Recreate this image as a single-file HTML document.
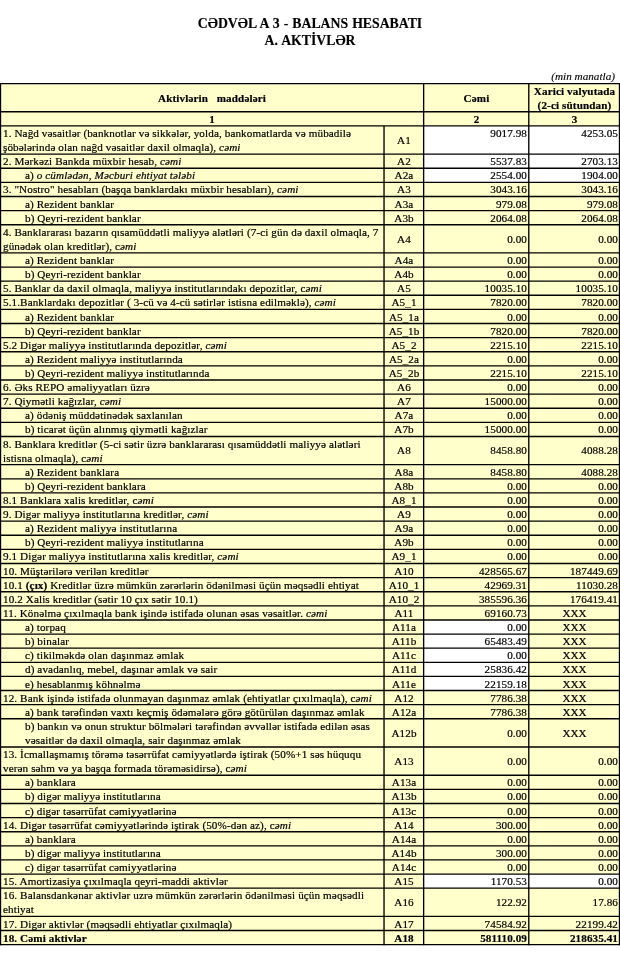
<!DOCTYPE html>
<html lang="az">
<head>
<meta charset="utf-8">
<title>Cədvəl A 3 - Balans hesabatı</title>
<style>
html,body{margin:0;padding:0;background:#fff;}
body{width:620px;height:965px;position:relative;overflow:hidden;font-family:"Liberation Serif","Times New Roman",serif;font-size:11.15px;color:#000;}
h1{position:absolute;left:0;width:620px;margin:0;text-align:center;font-size:13.75px;font-weight:bold;-webkit-text-stroke:0.15px #000;line-height:17px;top:14.5px;word-spacing:0.6px;}
.unit{position:absolute;right:5px;top:70px;font-style:italic;font-size:11.2px;-webkit-text-stroke:0.12px #000;line-height:13px;}
table{position:absolute;left:0;top:84px;border-collapse:separate;border-spacing:0;table-layout:fixed;width:620px;}
svg.grid{position:absolute;left:0;top:0;width:620px;height:965px;pointer-events:none;}
td,th{box-sizing:border-box;padding:0;border:0;background:#ffc;line-height:13px;vertical-align:bottom;white-space:nowrap;-webkit-text-stroke:0.2px #000;font-weight:normal;}
th{font-weight:bold;font-size:11.1px;letter-spacing:0.13px;text-align:center;vertical-align:middle;}
td.d{text-align:left;vertical-align:bottom;padding-left:3px;font-size:11.15px;letter-spacing:0.1px;}
td.d .u{position:relative;top:-1.1px;}
th.h3 .b{position:relative;top:1.2px;}
td.d.in{padding-left:25px;}
td.c{text-align:center;letter-spacing:0.075px;}
td.n{text-align:right;padding-right:2px;letter-spacing:0.075px;}
td.x{text-align:center;}
tr.t2 td.c,tr.t2 td.n,tr.t2 td.x{vertical-align:middle;}
td.w{background:#fff;}
tr.t2 td.top{vertical-align:top;padding-top:1px;}
tr.b td{font-weight:bold;}
</style>
</head>
<body>
<h1>CƏDVƏL A 3 - BALANS HESABATI<br>A. AKTİVLƏR</h1>
<div class="unit">(min manatla)</div>
<table>
<colgroup><col style="width:384px"><col style="width:40px"><col style="width:105px"><col style="width:91px"></colgroup>
<tr style="height:28px"><th colspan="2">Aktivlərin&nbsp;&nbsp; maddələri</th><th>Cəmi</th><th class="h3">Xarici valyutada<br><span class="b">(2-ci sütundan)</span></th></tr>
<tr style="height:14px"><th colspan="2">1</th><th>2</th><th>3</th></tr>
<tr class="t2" style="height:28px"><td class="d"><span class="u">1. Nağd vəsaitlər (banknotlar və sikkələr, yolda, bankomatlarda və mübadilə</span><br>şöbələrində olan nağd vəsaitlər daxil olmaqla), <i>cəmi</i></td><td class="c">A1</td><td class="n w top">9017.98</td><td class="n w top">4253.05</td></tr>
<tr style="height:14px"><td class="d">2. Mərkəzi Bankda müxbir hesab, <i>cəmi</i></td><td class="c">A2</td><td class="n w">5537.83</td><td class="n w">2703.13</td></tr>
<tr style="height:14px"><td class="d in">a) <i>o cümlədən, Məcburi ehtiyat tələbi</i></td><td class="c">A2a</td><td class="n w">2554.00</td><td class="n w">1904.00</td></tr>
<tr style="height:14px"><td class="d">3. "Nostro" hesabları (başqa banklardakı müxbir hesabları), <i>cəmi</i></td><td class="c">A3</td><td class="n">3043.16</td><td class="n">3043.16</td></tr>
<tr style="height:15px"><td class="d in">a) Rezident banklar</td><td class="c">A3a</td><td class="n">979.08</td><td class="n">979.08</td></tr>
<tr style="height:14px"><td class="d in">b) Qeyri-rezident banklar</td><td class="c">A3b</td><td class="n">2064.08</td><td class="n">2064.08</td></tr>
<tr class="t2" style="height:28px"><td class="d"><span class="u">4. Banklararası bazarın qısamüddətli maliyyə alətləri (7-ci gün də daxil olmaqla, 7</span><br>günədək olan kreditlər), c<i>əmi</i></td><td class="c">A4</td><td class="n">0.00</td><td class="n">0.00</td></tr>
<tr style="height:14px"><td class="d in">a) Rezident banklar</td><td class="c">A4a</td><td class="n">0.00</td><td class="n">0.00</td></tr>
<tr style="height:14px"><td class="d in">b) Qeyri-rezident banklar</td><td class="c">A4b</td><td class="n">0.00</td><td class="n">0.00</td></tr>
<tr style="height:14px"><td class="d">5. Banklar da daxil olmaqla, maliyyə institutlarındakı depozitlər, c<i>əmi</i></td><td class="c">A5</td><td class="n">10035.10</td><td class="n">10035.10</td></tr>
<tr style="height:14px"><td class="d">5.1.Banklardakı depozitlər ( 3-cü və 4-cü sətirlər istisna edilməklə), <i>cəmi</i></td><td class="c">A5_1</td><td class="n">7820.00</td><td class="n">7820.00</td></tr>
<tr style="height:15px"><td class="d in">a) Rezident banklar</td><td class="c">A5_1a</td><td class="n">0.00</td><td class="n">0.00</td></tr>
<tr style="height:14px"><td class="d in">b) Qeyri-rezident banklar</td><td class="c">A5_1b</td><td class="n">7820.00</td><td class="n">7820.00</td></tr>
<tr style="height:14px"><td class="d">5.2 Digər maliyyə institutlarında depozitlər, <i>cəmi</i></td><td class="c">A5_2</td><td class="n">2215.10</td><td class="n">2215.10</td></tr>
<tr style="height:14px"><td class="d in">a) Rezident maliyyə institutlarında</td><td class="c">A5_2a</td><td class="n">0.00</td><td class="n">0.00</td></tr>
<tr style="height:14px"><td class="d in">b) Qeyri-rezident maliyyə institutlarında</td><td class="c">A5_2b</td><td class="n">2215.10</td><td class="n">2215.10</td></tr>
<tr style="height:14px"><td class="d">6. Əks REPO əməliyyatları üzrə</td><td class="c">A6</td><td class="n">0.00</td><td class="n">0.00</td></tr>
<tr style="height:14px"><td class="d">7. Qiymətli kağızlar, <i>cəmi</i></td><td class="c">A7</td><td class="n">15000.00</td><td class="n">0.00</td></tr>
<tr style="height:14px"><td class="d in">a) ödəniş müddətinədək saxlanılan</td><td class="c">A7a</td><td class="n">0.00</td><td class="n">0.00</td></tr>
<tr style="height:14px"><td class="d in">b) ticarət üçün alınmış qiymətli kağızlar</td><td class="c">A7b</td><td class="n">15000.00</td><td class="n">0.00</td></tr>
<tr class="t2" style="height:29px"><td class="d"><span class="u">8. Banklara kreditlər (5-ci sətir üzrə banklararası qısamüddətli maliyyə alətləri</span><br>istisna olmaqla), c<i>əmi</i></td><td class="c">A8</td><td class="n">8458.80</td><td class="n">4088.28</td></tr>
<tr style="height:14px"><td class="d in">a) Rezident banklara</td><td class="c">A8a</td><td class="n">8458.80</td><td class="n">4088.28</td></tr>
<tr style="height:14px"><td class="d in">b) Qeyri-rezident banklara</td><td class="c">A8b</td><td class="n">0.00</td><td class="n">0.00</td></tr>
<tr style="height:14px"><td class="d">8.1 Banklara xalis kreditlər, c<i>əmi</i></td><td class="c">A8_1</td><td class="n">0.00</td><td class="n">0.00</td></tr>
<tr style="height:14px"><td class="d">9. Digər maliyyə institutlarına kreditlər, <i>cəmi</i></td><td class="c">A9</td><td class="n">0.00</td><td class="n">0.00</td></tr>
<tr style="height:14px"><td class="d in">a) Rezident maliyyə institutlarına</td><td class="c">A9a</td><td class="n">0.00</td><td class="n">0.00</td></tr>
<tr style="height:14px"><td class="d in">b) Qeyri-rezident maliyyə institutlarına</td><td class="c">A9b</td><td class="n">0.00</td><td class="n">0.00</td></tr>
<tr style="height:14px"><td class="d">9.1 Digər maliyyə institutlarına xalis kreditlər, <i>cəmi</i></td><td class="c">A9_1</td><td class="n">0.00</td><td class="n">0.00</td></tr>
<tr style="height:15px"><td class="d">10. Müştərilərə verilən kreditlər</td><td class="c">A10</td><td class="n">428565.67</td><td class="n">187449.69</td></tr>
<tr style="height:14px"><td class="d">10.1 <b>(çıx)</b> Kreditlər üzrə mümkün zərərlərin ödənilməsi üçün məqsədli ehtiyat</td><td class="c">A10_1</td><td class="n">42969.31</td><td class="n">11030.28</td></tr>
<tr style="height:14px"><td class="d">10.2 Xalis kreditlər (sətir 10 çıx sətir 10.1)</td><td class="c">A10_2</td><td class="n">385596.36</td><td class="n">176419.41</td></tr>
<tr style="height:14px"><td class="d">11. Könəlmə çıxılmaqla bank işində istifadə olunan əsas vəsaitlər. <i>cəmi</i></td><td class="c">A11</td><td class="n">69160.73</td><td class="x">XXX</td></tr>
<tr style="height:14px"><td class="d in">a) torpaq</td><td class="c">A11a</td><td class="n w">0.00</td><td class="x">XXX</td></tr>
<tr style="height:14px"><td class="d in">b) binalar</td><td class="c">A11b</td><td class="n w">65483.49</td><td class="x">XXX</td></tr>
<tr style="height:14px"><td class="d in">c) tikilməkdə olan daşınmaz əmlak</td><td class="c">A11c</td><td class="n w">0.00</td><td class="x">XXX</td></tr>
<tr style="height:14px"><td class="d in">d) avadanlıq, mebel, daşınar əmlak və sair</td><td class="c">A11d</td><td class="n w">25836.42</td><td class="x">XXX</td></tr>
<tr style="height:15px"><td class="d in">e) hesablanmış köhnəlmə</td><td class="c">A11e</td><td class="n w">22159.18</td><td class="x">XXX</td></tr>
<tr style="height:14px"><td class="d">12. Bank işində istifadə olunmayan daşınmaz əmlak (ehtiyatlar çıxılmaqla), c<i>əmi</i></td><td class="c">A12</td><td class="n">7786.38</td><td class="x">XXX</td></tr>
<tr style="height:14px"><td class="d in">a) bank tərəfindən vaxtı keçmiş ödəmələrə görə götürülən daşınmaz əmlak</td><td class="c">A12a</td><td class="n">7786.38</td><td class="x">XXX</td></tr>
<tr class="t2" style="height:28px"><td class="d in"><span class="u">b) bankın və onun struktur bölmələri tərəfindən əvvəllər istifadə edilən əsas</span><br>vəsaitlər də daxil olmaqla, sair daşınmaz əmlak</td><td class="c">A12b</td><td class="n">0.00</td><td class="x">XXX</td></tr>
<tr class="t2" style="height:28px"><td class="d"><span class="u">13. İcmallaşmamış törəmə təsərrüfat cəmiyyətlərdə iştirak (50%+1 səs hüququ</span><br>verən səhm və ya başqa formada törəməsidirsə), c<i>əmi</i></td><td class="c">A13</td><td class="n">0.00</td><td class="n">0.00</td></tr>
<tr style="height:14px"><td class="d in">a) banklara</td><td class="c">A13a</td><td class="n">0.00</td><td class="n">0.00</td></tr>
<tr style="height:14px"><td class="d in">b) digər maliyyə institutlarına</td><td class="c">A13b</td><td class="n">0.00</td><td class="n">0.00</td></tr>
<tr style="height:15px"><td class="d in">c) digər təsərrüfat cəmiyyətlərinə</td><td class="c">A13c</td><td class="n">0.00</td><td class="n">0.00</td></tr>
<tr style="height:14px"><td class="d">14. Digər təsərrüfat cəmiyyətlərində iştirak (50%-dən az), c<i>əmi</i></td><td class="c">A14</td><td class="n">300.00</td><td class="n">0.00</td></tr>
<tr style="height:14px"><td class="d in">a) banklara</td><td class="c">A14a</td><td class="n">0.00</td><td class="n">0.00</td></tr>
<tr style="height:14px"><td class="d in">b) digər maliyyə institutlarına</td><td class="c">A14b</td><td class="n">300.00</td><td class="n">0.00</td></tr>
<tr style="height:14px"><td class="d in">c) digər təsərrüfat cəmiyyətlərinə</td><td class="c">A14c</td><td class="n">0.00</td><td class="n">0.00</td></tr>
<tr style="height:14px"><td class="d">15. Amortizasiya çıxılmaqla qeyri-maddi aktivlər</td><td class="c">A15</td><td class="n w">1170.53</td><td class="n w">0.00</td></tr>
<tr class="t2" style="height:28px"><td class="d"><span class="u">16. Balansdankənar aktivlər uzrə mümkün zərərlərin ödənilməsi üçün məqsədli</span><br>ehtiyat</td><td class="c">A16</td><td class="n">122.92</td><td class="n">17.86</td></tr>
<tr style="height:15px"><td class="d">17. Digər aktivlər (məqsədli ehtiyatlar çıxılmaqla)</td><td class="c">A17</td><td class="n">74584.92</td><td class="n">22199.42</td></tr>
<tr class="b" style="height:14px"><td class="d">18. Cəmi aktivlər</td><td class="c">A18</td><td class="n">581110.09</td><td class="n">218635.41</td></tr>
</table>
<svg class="grid" viewBox="0 0 620 965" width="620" height="965"><g stroke="#000" stroke-width="1.35" fill="none"><line x1="0" y1="83.55" x2="620" y2="83.55"/><line x1="0" y1="111.78" x2="620" y2="111.78"/><line x1="0" y1="125.90" x2="620" y2="125.90"/><line x1="0" y1="154.13" x2="620" y2="154.13"/><line x1="0" y1="168.25" x2="620" y2="168.25"/><line x1="0" y1="182.36" x2="620" y2="182.36"/><line x1="0" y1="196.48" x2="620" y2="196.48"/><line x1="0" y1="210.59" x2="620" y2="210.59"/><line x1="0" y1="224.71" x2="620" y2="224.71"/><line x1="0" y1="252.94" x2="620" y2="252.94"/><line x1="0" y1="267.06" x2="620" y2="267.06"/><line x1="0" y1="281.17" x2="620" y2="281.17"/><line x1="0" y1="295.29" x2="620" y2="295.29"/><line x1="0" y1="309.41" x2="620" y2="309.41"/><line x1="0" y1="323.52" x2="620" y2="323.52"/><line x1="0" y1="337.64" x2="620" y2="337.64"/><line x1="0" y1="351.75" x2="620" y2="351.75"/><line x1="0" y1="365.87" x2="620" y2="365.87"/><line x1="0" y1="379.99" x2="620" y2="379.99"/><line x1="0" y1="394.10" x2="620" y2="394.10"/><line x1="0" y1="408.22" x2="620" y2="408.22"/><line x1="0" y1="422.33" x2="620" y2="422.33"/><line x1="0" y1="436.45" x2="620" y2="436.45"/><line x1="0" y1="464.68" x2="620" y2="464.68"/><line x1="0" y1="478.80" x2="620" y2="478.80"/><line x1="0" y1="492.91" x2="620" y2="492.91"/><line x1="0" y1="507.03" x2="620" y2="507.03"/><line x1="0" y1="521.15" x2="620" y2="521.15"/><line x1="0" y1="535.26" x2="620" y2="535.26"/><line x1="0" y1="549.38" x2="620" y2="549.38"/><line x1="0" y1="563.49" x2="620" y2="563.49"/><line x1="0" y1="577.61" x2="620" y2="577.61"/><line x1="0" y1="591.73" x2="620" y2="591.73"/><line x1="0" y1="605.84" x2="620" y2="605.84"/><line x1="0" y1="619.96" x2="620" y2="619.96"/><line x1="0" y1="634.07" x2="620" y2="634.07"/><line x1="0" y1="648.19" x2="620" y2="648.19"/><line x1="0" y1="662.31" x2="620" y2="662.31"/><line x1="0" y1="676.42" x2="620" y2="676.42"/><line x1="0" y1="690.54" x2="620" y2="690.54"/><line x1="0" y1="704.65" x2="620" y2="704.65"/><line x1="0" y1="718.77" x2="620" y2="718.77"/><line x1="0" y1="747.00" x2="620" y2="747.00"/><line x1="0" y1="775.23" x2="620" y2="775.23"/><line x1="0" y1="789.35" x2="620" y2="789.35"/><line x1="0" y1="803.47" x2="620" y2="803.47"/><line x1="0" y1="817.58" x2="620" y2="817.58"/><line x1="0" y1="831.70" x2="620" y2="831.70"/><line x1="0" y1="845.81" x2="620" y2="845.81"/><line x1="0" y1="859.93" x2="620" y2="859.93"/><line x1="0" y1="874.05" x2="620" y2="874.05"/><line x1="0" y1="888.16" x2="620" y2="888.16"/><line x1="0" y1="916.39" x2="620" y2="916.39"/><line x1="0" y1="930.51" x2="620" y2="930.51"/><line x1="0" y1="944.63" x2="620" y2="944.63"/><line x1="0.50" y1="82.88" x2="0.50" y2="945.30"/><line x1="384.03" y1="125.90" x2="384.03" y2="945.30"/><line x1="423.64" y1="82.88" x2="423.64" y2="945.30"/><line x1="528.79" y1="82.88" x2="528.79" y2="945.30"/><line x1="619.50" y1="82.88" x2="619.50" y2="945.30"/></g></svg>
</body>
</html>
